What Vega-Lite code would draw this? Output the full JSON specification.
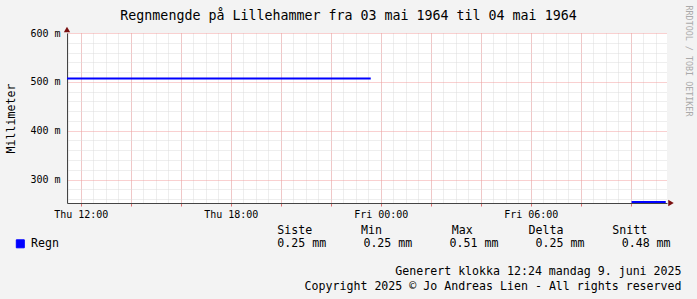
{
  "$schema": "https://vega.github.io/schema/vega-lite/v6.json",
  "width": 600,
  "height": 170,
  "autosize": "none",
  "padding": {"left": 67, "top": 33, "right": 30, "bottom": 96},
  "background": "#f3f3f3",
  "config": {
    "view": {"fill": "white", "stroke": null},
    "font": "DejaVu Sans Mono",
    "axis": {"labelFont": "DejaVu Sans Mono", "titleFont": "DejaVu Sans Mono", "labelColor": "black", "titleColor": "black", "titleFontWeight": "normal", "domain": false, "ticks": false, "labels": false, "grid": false},
    "text": {"font": "DejaVu Sans Mono"}
  },
  "title": {"text": "Regnmengde på Lillehammer fra 03 mai 1964 til 04 mai 1964", "font": "DejaVu Sans Mono", "fontSize": 13.3, "fontWeight": "normal", "color": "black", "anchor": "middle", "frame": "group", "dx": -18.5, "offset": -28, "baseline": "alphabetic"},
  "datasets": {
    "rain": [
      {"t": "1964-04-30T11:27:00Z", "mm": 0.507, "seg": "a", "series": "Regn"},
      {"t": "1964-04-30T23:36:00Z", "mm": 0.507, "seg": "a", "series": "Regn"},
      {"t": "1964-05-01T10:02:00Z", "mm": 0.254, "seg": "b", "series": "Regn"},
      {"t": "1964-05-01T11:24:00Z", "mm": 0.254, "seg": "b", "series": "Regn"}
    ],
    "stats": [
      {"col": "Siste", "row": "head", "label": "Siste\u00a0\u00a0\u00a0\u00a0\u00a0\u00a0\u00a0Min\u00a0\u00a0\u00a0\u00a0\u00a0\u00a0\u00a0\u00a0\u00a0\u00a0Max\u00a0\u00a0\u00a0\u00a0\u00a0\u00a0\u00a0\u00a0Delta\u00a0\u00a0\u00a0\u00a0\u00a0\u00a0\u00a0Snitt"},
      {"col": "Siste", "row": "val", "label": "0.25 mm"},
      {"col": "Min", "row": "val", "label": "0.25 mm"},
      {"col": "Max", "row": "val", "label": "0.51 mm"},
      {"col": "Delta", "row": "val", "label": "0.25 mm"},
      {"col": "Snitt", "row": "val", "label": "0.48 mm"}
    ]
  },
  "layer": [
    {
      "data": {"name": "rain"},
      "mark": {"type": "line", "strokeWidth": 2, "strokeCap": "butt"},
      "encoding": {
        "x": {"field": "t", "type": "temporal",
          "scale": {"type": "utc", "nice": false, "domain": [{"year": 1964, "month": 4, "date": 30, "hours": 11, "minutes": 27, "utc": true}, {"year": 1964, "month": 5, "date": 1, "hours": 11, "minutes": 27, "utc": true}]},
          "axis": {"orient": "bottom", "grid": true, "gridColor": "#dcdcdc", "gridDash": [1, 1], "tickCount": 48,
            "title": ["Generert klokka 12:24 mandag 9. juni 2025", "Copyright 2025 © Jo Andreas Lien - All rights reserved"],
            "titleX": 614, "titleY": 71, "titleAlign": "right", "titleBaseline": "alphabetic", "titleFontSize": 11.6, "titleLineHeight": 15}},
        "y": {"field": "mm", "type": "quantitative",
          "scale": {"domain": [0.252, 0.6], "nice": false, "zero": false},
          "axis": {"orient": "left", "grid": true, "gridColor": "#dcdcdc", "gridDash": [1, 1], "values": [0.26, 0.28, 0.32, 0.34, 0.36, 0.38, 0.42, 0.44, 0.46, 0.48, 0.52, 0.54, 0.56, 0.58], "title": null}},
        "color": {"field": "series", "type": "nominal", "scale": {"domain": ["Regn"], "range": ["#0000ff"]},
          "legend": {"orient": "none", "legendX": -52.5, "legendY": 205, "title": null, "padding": 0, "labelFont": "DejaVu Sans Mono", "labelFontSize": 11.6, "labelColor": "black", "labelOffset": 5, "symbolType": "square", "symbolSize": 64, "symbolFillColor": "#0000ff", "symbolStrokeColor": "black", "symbolStrokeWidth": 1,
            "encode": {"symbols": {"update": {"fill": {"value": "#0000ff"}, "stroke": {"value": "black"}, "strokeWidth": {"value": 1}}}}}},
        "detail": {"field": "seg", "type": "nominal"}
      }
    },
    {
      "data": {"values": [{"a": 1}]},
      "mark": {"type": "point", "shape": "triangle-up", "filled": true, "color": "#7a1010", "opacity": 1, "size": 40, "yOffset": -3.5},
      "encoding": {
        "x": {"datum": {"year": 1964, "month": 4, "date": 30, "hours": 11, "minutes": 27, "utc": true}, "type": "temporal",
          "scale": {"type": "utc", "nice": false, "domain": [{"year": 1964, "month": 4, "date": 30, "hours": 11, "minutes": 27, "utc": true}, {"year": 1964, "month": 5, "date": 1, "hours": 11, "minutes": 27, "utc": true}]},
          "axis": {"orient": "bottom", "grid": true, "gridColor": "#f2a0a0", "gridDash": [1, 1], "ticks": true, "tickColor": "#e07070", "tickSize": 3, "title": null,
            "values": [
              {"year": 1964, "month": 4, "date": 30, "hours": 12, "utc": true},
              {"year": 1964, "month": 4, "date": 30, "hours": 14, "utc": true},
              {"year": 1964, "month": 4, "date": 30, "hours": 16, "utc": true},
              {"year": 1964, "month": 4, "date": 30, "hours": 18, "utc": true},
              {"year": 1964, "month": 4, "date": 30, "hours": 20, "utc": true},
              {"year": 1964, "month": 4, "date": 30, "hours": 22, "utc": true},
              {"year": 1964, "month": 5, "date": 1, "hours": 0, "utc": true},
              {"year": 1964, "month": 5, "date": 1, "hours": 2, "utc": true},
              {"year": 1964, "month": 5, "date": 1, "hours": 4, "utc": true},
              {"year": 1964, "month": 5, "date": 1, "hours": 6, "utc": true},
              {"year": 1964, "month": 5, "date": 1, "hours": 8, "utc": true},
              {"year": 1964, "month": 5, "date": 1, "hours": 10, "utc": true}
            ]}},
        "y": {"datum": 0.6, "type": "quantitative",
          "scale": {"domain": [0.252, 0.6], "nice": false, "zero": false},
          "axis": {"orient": "left", "grid": true, "gridColor": "#f2a0a0", "gridDash": [1, 1], "values": [0.3, 0.4, 0.5, 0.6], "labels": true, "labelExpr": "format(datum.value*1000, 'd') + ' m'", "labelFontSize": 10, "labelPadding": 7, "tickSize": 0, "domain": true, "domainColor": "#444444",
            "title": "Millimeter", "titleX": -56, "titleY": 85, "titleAngle": 270, "titleAlign": "center", "titleBaseline": "middle", "titleFontSize": 11.6}}
      }
    },
    {
      "data": {"values": [{"a": 1}]},
      "mark": {"type": "point", "shape": "triangle-right", "filled": true, "color": "#7a1010", "opacity": 1, "size": 40, "xOffset": 4},
      "encoding": {
        "x": {"datum": {"year": 1964, "month": 5, "date": 1, "hours": 11, "minutes": 27, "utc": true}, "type": "temporal",
          "scale": {"type": "utc", "nice": false, "domain": [{"year": 1964, "month": 4, "date": 30, "hours": 11, "minutes": 27, "utc": true}, {"year": 1964, "month": 5, "date": 1, "hours": 11, "minutes": 27, "utc": true}]},
          "axis": {"orient": "bottom", "tickCount": 4, "labels": true, "format": "%a %H:%M", "labelFontSize": 10, "labelPadding": 6, "tickSize": 0, "labelFlush": false, "labelOverlap": false, "domain": true, "domainColor": "#444444", "title": null}},
        "y": {"datum": 0.252, "type": "quantitative",
          "scale": {"domain": [0.252, 0.6], "nice": false, "zero": false},
          "axis": {"orient": "right", "title": "RRDTOOL / TOBI OETIKER", "titleAngle": 90, "titleX": 21, "titleY": -28, "titleAlign": "left", "titleBaseline": "middle", "titleColor": "#aaaaaa", "titleFontSize": 8.4}}
      }
    },
    {
      "data": {"name": "stats"},
      "mark": {"type": "text", "align": "left", "baseline": "alphabetic", "fontSize": 11.6, "color": "black", "font": "DejaVu Sans Mono"},
      "encoding": {
        "x": {"field": "col", "type": "nominal", "scale": {"type": "point", "domain": ["Siste", "Min", "Max", "Delta", "Snitt"], "range": [210.3, 554.7], "padding": 0}, "axis": null},
        "y": {"field": "row", "type": "nominal", "scale": {"type": "point", "domain": ["head", "val"], "range": [200.5, 213.5], "padding": 0}, "axis": null},
        "text": {"field": "label"}
      }
    }
  ],
  "resolve": {"scale": {"x": "independent", "y": "independent"}, "axis": {"x": "independent", "y": "independent"}}
}
